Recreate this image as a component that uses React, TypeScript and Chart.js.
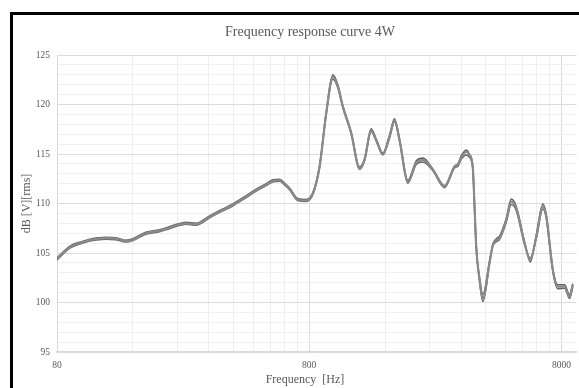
import React, { useEffect, useRef } from "react";
import { Chart, registerables } from "chart.js";

Chart.register(...registerables);

// Frequency points (Hz)
const FREQ = [
  80, 90, 100, 108, 125, 137, 150, 160, 180, 204, 220, 238, 260, 285, 322,
  360, 398, 450, 493, 540, 575, 610, 640, 668, 720, 778, 827, 879, 934, 992,
  1040, 1087, 1174, 1266, 1325, 1409, 1475, 1567, 1665, 1743, 1825, 1968,
  2125, 2257, 2473, 2752, 3015, 3107, 3205, 3354, 3450, 3560, 3619, 3675,
  3787, 3903, 4149, 4276, 4420, 4546, 4833, 5059, 5295, 5714, 6019, 6358,
  6751, 6964, 7395, 7740, 8229, 8613, 8876,
];

// Measured level of each unit, dB [V][rms]
const UNIT_A = [
  104.4, 105.6, 106.05, 106.3, 106.5,
  106.45, 106.2, 106.35, 107.0, 107.25,
  107.5, 107.8, 108.0, 107.9, 108.65,
  109.3, 109.85, 110.7, 111.35, 111.9,
  112.3, 112.35, 111.95, 111.5, 110.4,
  110.3, 111.0, 113.7, 119.1, 122.8,
  121.8, 119.8, 117.1, 113.55, 114.4,
  117.4, 116.4, 115.0, 116.75, 118.4,
  116.4, 112.2, 114.1, 114.4, 113.4,
  111.7, 113.7, 113.9, 114.6, 115.2,
  114.9, 113.7, 109.7, 105.6, 102.3,
  100.4, 104.0, 105.8, 106.3, 106.5,
  108.3, 110.2, 109.5, 106.0, 104.3,
  106.65, 109.7, 108.7, 103.3, 101.6,
  101.6, 100.6, 101.8,
];

const UNIT_B = [
  104.5, 105.7, 106.15, 106.4, 106.6,
  106.55, 106.3, 106.45, 107.1, 107.35,
  107.6, 107.9, 108.1, 108.0, 108.75,
  109.4, 109.95, 110.8, 111.45, 112.0,
  112.4, 112.45, 112.05, 111.6, 110.5,
  110.4, 111.1, 113.8, 119.2, 123.0,
  121.95, 119.9, 117.2, 113.7, 114.5,
  117.55, 116.5, 115.1, 116.9, 118.55,
  116.5, 112.35, 114.3, 114.6, 113.5,
  111.8, 113.8, 114.0, 114.8, 115.4,
  115.0, 113.8, 109.9, 105.8, 102.2,
  100.1, 103.9, 105.9, 106.45, 106.7,
  108.5, 110.45, 109.7, 106.1, 104.1,
  106.8, 109.95, 108.9, 103.4, 101.8,
  101.8, 100.8, 101.9,
];

const UNIT_C = [
  104.3, 105.5, 105.95, 106.2, 106.4,
  106.35, 106.1, 106.25, 106.9, 107.15,
  107.4, 107.7, 107.9, 107.8, 108.55,
  109.2, 109.75, 110.6, 111.25, 111.8,
  112.2, 112.25, 111.85, 111.4, 110.3,
  110.2, 110.9, 113.6, 118.95, 122.55,
  121.65, 119.7, 117.0, 113.45, 114.3,
  117.25, 116.3, 114.9, 116.6, 118.25,
  116.3, 112.05, 113.95, 114.2, 113.3,
  111.6, 113.6, 113.75, 114.45, 114.9,
  114.7, 113.5, 109.4, 105.4, 102.6,
  100.8, 104.2, 105.7, 106.15, 106.35,
  108.1, 109.9, 109.3, 105.85, 104.5,
  106.45, 109.45, 108.5, 103.1, 101.4,
  101.45, 100.4, 101.6,
];

// Grid lines on the frequency axis and the ones that carry a label
const X_GRID = [
  80, 160, 240, 320, 400, 480, 560, 640, 720,
  800, 1600, 2400, 3200, 4000, 4800, 5600, 6400, 7200,
  8000,
];
const X_LABELS = [80, 800, 8000];

const TITLE = "Frequency response curve 4W";
const X_TITLE = "Frequency  [Hz]";
const Y_TITLE = "dB [V][rms]";

const SERIF = '"Liberation Serif", "Times New Roman", serif';
const TEXT = "#595959";

const toPoints = (vals: number[]) => vals.map((y, i) => ({ x: FREQ[i], y }));

const captions = {
  id: "captions",
  afterDraw(chart: any) {
    const { ctx } = chart;
    ctx.save();
    ctx.fillStyle = TEXT;
    ctx.textAlign = "center";
    ctx.textBaseline = "middle";
    ctx.font = `14px ${SERIF}`;
    ctx.fillText(TITLE, 310, 32);
    ctx.font = `12px ${SERIF}`;
    ctx.fillText(X_TITLE, 305, 380);
    ctx.restore();
  },
};

export default function App() {
  const ref = useRef<HTMLCanvasElement | null>(null);

  useEffect(() => {
    if (!ref.current) return;
    const line = (vals: number[], color: string, width: number) => ({
      data: toPoints(vals),
      borderColor: color,
      borderWidth: width,
      pointRadius: 0,
      cubicInterpolationMode: "monotone" as const,
      fill: false,
    });
    const chart = new Chart(ref.current, {
      type: "line",
      data: {
        datasets: [
          line(UNIT_A, "#8a8a8a", 2.2),
          line(UNIT_B, "#5e5e5e", 1.5),
          line(UNIT_C, "#666666", 1.5),
        ],
      },
      options: {
        responsive: false,
        devicePixelRatio: 1,
        animation: false,
        parsing: false,
        layout: { padding: { left: 0, top: 55, right: 2, bottom: 0 } },
        plugins: {
          legend: { display: false },
          tooltip: { enabled: false },
          title: { display: false },
        },
        scales: {
          x: {
            type: "logarithmic",
            min: 80,
            max: 9180,
            afterBuildTicks: (s: any) => {
              s.ticks = X_GRID.map((v) => ({ value: v }));
            },
            afterFit: (s: any) => {
              s.height = 36;
            },
            ticks: {
              autoSkip: false,
              maxRotation: 0,
              padding: 8,
              color: TEXT,
              font: { family: SERIF, size: 9.5 },
              callback: (v: any) => (X_LABELS.includes(Number(v)) ? String(v) : ""),
            },
            grid: {
              drawTicks: false,
              color: (c: any) =>
                X_LABELS.includes(c.tick?.value) ? "#dcdcdc" : "#eeeeee",
            },
            border: { color: "#d9d9d9", width: 1.5 },
          },
          y: {
            type: "linear",
            min: 95,
            max: 125,
            afterFit: (s: any) => {
              s.width = 57;
            },
            ticks: {
              stepSize: 1,
              autoSkip: false,
              padding: 7,
              color: TEXT,
              font: { family: SERIF, size: 9.5 },
              callback: (v: any) => (Number(v) % 5 === 0 ? String(v) : ""),
            },
            grid: {
              drawTicks: false,
              color: (c: any) =>
                c.tick && c.tick.value % 5 === 0 ? "#dcdcdc" : "#f0f0f0",
            },
            border: { color: "#d9d9d9" },
            title: {
              display: true,
              text: Y_TITLE,
              color: TEXT,
              font: { family: SERIF, size: 12 },
              padding: { top: 20, bottom: 0 },
            },
          },
        },
      },
      plugins: [captions],
    });
    return () => chart.destroy();
  }, []);

  return (
    <div
      style={{
        position: "fixed",
        left: 0,
        top: 0,
        width: 579,
        height: 388,
        overflow: "hidden",
        background: "#ffffff",
      }}
    >
      <div
        style={{
          position: "absolute",
          left: 10,
          top: 12,
          width: 640,
          height: 440,
          border: "3px solid #000",
          boxSizing: "border-box",
        }}
      />
      <canvas
        ref={ref}
        width={579}
        height={388}
        style={{ position: "absolute", left: 0, top: 0 }}
      />
    </div>
  );
}
